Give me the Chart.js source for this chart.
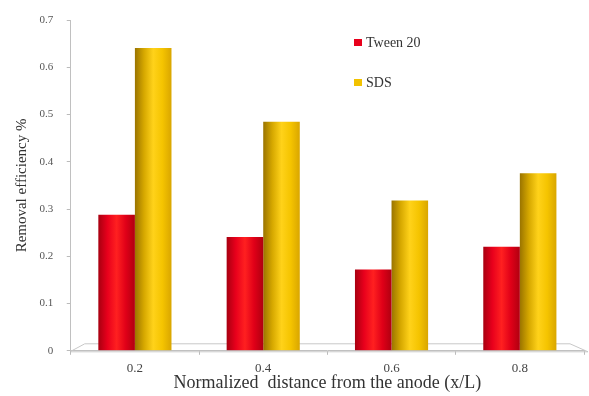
<!DOCTYPE html>
<html>
<head>
<meta charset="utf-8">
<script src="https://cdn.jsdelivr.net/npm/chart.js@4.4.1/dist/chart.umd.min.js"></script>
<style>
  html, body { margin: 0; padding: 0; background: #fff; }
  canvas { display: block; }
</style>
</head>
<body>
<canvas id="grafico" width="589" height="396"></canvas>
<script>
// datos
const categorias = ["0.2", "0.4", "0.6", "0.8"];
const tween20 = [0.288, 0.241, 0.172, 0.220];
const sds = [0.641, 0.485, 0.318, 0.376];
const nombres = ["Tween 20", "SDS"];

const serif = "'Liberation Serif', 'DejaVu Serif', serif";
const catPct = 0.57;

// gradiente horizontal tipo cilindro para cada barra
function cilindro(colores, solido) {
  return (ctx) => {
    const chart = ctx.chart;
    const x = chart.scales.x;
    if (!chart.chartArea || !x || ctx.dataIndex === undefined) return solido;
    const paso = (chart.chartArea.right - chart.chartArea.left) / categorias.length;
    const anchoBarra = paso * catPct / 2;
    const centro = x.getPixelForValue(ctx.dataIndex);
    const izq = ctx.datasetIndex === 0 ? centro - anchoBarra : centro;
    const g = chart.ctx.createLinearGradient(izq, 0, izq + anchoBarra, 0);
    colores.forEach((c, i) => g.addColorStop(i / (colores.length - 1), c));
    return g;
  };
}

// leyenda dibujada a mano y "suelo" 3D del eje x
const extras = {
  id: "extras",
  beforeDatasetsDraw(chart) {
    const { ctx, chartArea } = chart;
    const y0 = chart.scales.y.getPixelForValue(0);
    ctx.save();
    ctx.strokeStyle = "#c8c8c8";
    ctx.lineWidth = 1;
    ctx.beginPath();
    ctx.moveTo(chartArea.left, y0 + 0.5);
    ctx.lineTo(chartArea.left + 14, y0 - 7);
    ctx.lineTo(chartArea.right - 14, y0 - 7);
    ctx.lineTo(chartArea.right + 4, y0 + 1);
    ctx.lineTo(chartArea.left, y0 + 1);
    ctx.stroke();
    ctx.restore();
  },
  afterDraw(chart) {
    const ctx = chart.ctx;
    const items = [
      { texto: nombres[0], color: "#e8001c", y: 43 },
      { texto: nombres[1], color: "#f2c200", y: 83 }
    ];
    ctx.save();
    ctx.font = "14px " + serif;
    ctx.textBaseline = "middle";
    items.forEach(it => {
      ctx.fillStyle = it.color;
      ctx.fillRect(354, it.y - 4, 8, 7);
      ctx.fillStyle = "#333";
      ctx.fillText(it.texto, 366, it.y);
    });
    ctx.restore();
  }
};

new Chart(document.getElementById("grafico").getContext("2d"), {
  type: "bar",
  data: {
    labels: categorias,
    datasets: [
      {
        label: nombres[0],
        data: tween20,
        backgroundColor: cilindro(["#a80010", "#e8001c", "#ff2020", "#e00018", "#b00010"], "#e8001c"),
        borderWidth: 0
      },
      {
        label: nombres[1],
        data: sds,
        backgroundColor: cilindro(["#9a7400", "#d6a800", "#ffd21a", "#f5c400", "#d9a600"], "#f2c200"),
        borderWidth: 0
      }
    ]
  },
  options: {
    responsive: false,
    animation: false,
    layout: { padding: { top: 10, right: 5, left: 13, bottom: 2 } },
    datasets: { bar: { categoryPercentage: catPct, barPercentage: 1 } },
    plugins: {
      legend: { display: false },
      tooltip: { enabled: false }
    },
    scales: {
      x: {
        grid: { display: true, drawOnChartArea: false, tickLength: 4, color: "#bbb" },
        border: { color: "#c0c0c0" },
        ticks: { color: "#444", font: { family: serif, size: 13 }, padding: 6 },
        title: {
          display: true,
          text: "Normalized  distance from the anode (x/L)",
          color: "#333",
          font: { family: serif, size: 18 },
          padding: { top: -10, bottom: 0 }
        }
      },
      y: {
        min: 0,
        max: 0.7,
        grid: { display: true, drawOnChartArea: false, tickLength: 4, color: "#bbb" },
        border: { color: "#c0c0c0" },
        ticks: {
          stepSize: 0.1,
          color: "#555",
          font: { family: serif, size: 11 },
          padding: 13.5,
          callback: v => (v === 0 ? "0" : v.toFixed(1))
        },
        title: {
          display: true,
          text: "Removal efficiency %",
          color: "#333",
          font: { family: serif, size: 15 },
          padding: { top: 0, bottom: -5 }
        }
      }
    }
  },
  plugins: [extras]
});
</script>
</body>
</html>
